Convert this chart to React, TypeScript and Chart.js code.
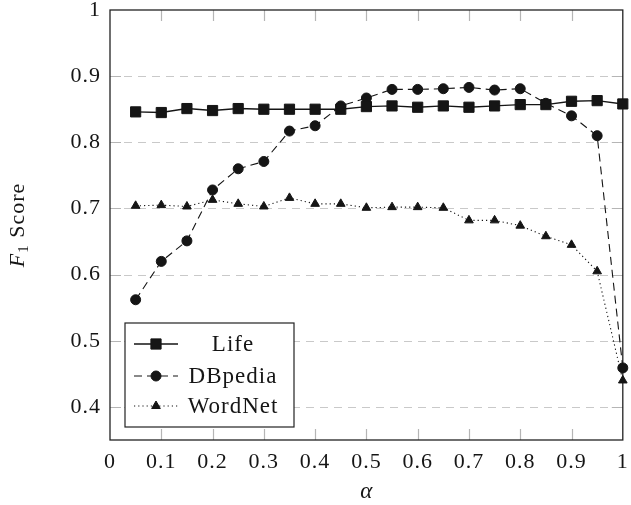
import React, { useEffect, useRef } from "react";
import { Chart, registerables } from "chart.js";

Chart.register(...registerables);

const alphas = [0.05, 0.1, 0.15, 0.2, 0.25, 0.3, 0.35, 0.4, 0.45, 0.5, 0.55, 0.6, 0.65, 0.7, 0.75, 0.8, 0.85, 0.9, 0.95, 1.0];
const lifeScores = [0.846, 0.845, 0.851, 0.848, 0.851, 0.850, 0.850, 0.850, 0.850, 0.854, 0.855, 0.853, 0.855, 0.853, 0.855, 0.857, 0.857, 0.862, 0.863, 0.858];
const dbpediaScores = [0.562, 0.620, 0.651, 0.728, 0.760, 0.771, 0.817, 0.825, 0.855, 0.867, 0.880, 0.880, 0.881, 0.883, 0.879, 0.881, 0.859, 0.840, 0.810, 0.459];
const wordnetScores = [0.704, 0.705, 0.703, 0.713, 0.707, 0.703, 0.716, 0.707, 0.707, 0.701, 0.702, 0.702, 0.701, 0.682, 0.682, 0.674, 0.658, 0.645, 0.605, 0.440];
const seriesNames = ["Life", "DBpedia", "WordNet"];
const xTicks = [0, 0.1, 0.2, 0.3, 0.4, 0.5, 0.6, 0.7, 0.8, 0.9, 1];
const yTicks = [0.4, 0.5, 0.6, 0.7, 0.8, 0.9, 1];

const SERIF = "'Liberation Serif', 'Times New Roman', serif";
const INK = "#151515";
const dashes: number[][] = [[], [8, 5], [1.2, 3]];
const markers = ["rect", "circle", "triangle"];

function fmt(v: number) {
  if (Math.abs(v) < 1e-9) return "0";
  if (Math.abs(v - 1) < 1e-9) return "1";
  return v.toFixed(1);
}

function drawMarker(ctx: CanvasRenderingContext2D, style: string, x: number, y: number) {
  ctx.save();
  ctx.fillStyle = INK;
  ctx.strokeStyle = INK;
  ctx.lineWidth = 1;
  ctx.setLineDash([]);
  ctx.beginPath();
  if (style === "rect") {
    ctx.rect(x - 5.1, y - 5.1, 10.2, 10.2);
  } else if (style === "circle") {
    ctx.arc(x, y, 5, 0, Math.PI * 2);
  } else {
    const r = 5;
    ctx.moveTo(x, y - r);
    ctx.lineTo(x + r * 0.866, y + r / 2);
    ctx.lineTo(x - r * 0.866, y + r / 2);
    ctx.closePath();
  }
  ctx.fill();
  ctx.stroke();
  ctx.restore();
}

const framePlugin = {
  id: "pgfFrame",
  beforeDraw(chart: any) {
    (chart.ctx as any).letterSpacing = "1px";
  },
  beforeDatasetsDraw(chart: any) {
    const { ctx, chartArea: a, scales } = chart;
    const xs = scales.x;
    const ys = scales.y;
    ctx.save();
    (ctx as any).letterSpacing = "0px";
    ctx.strokeStyle = "#c9c9c9";
    ctx.lineWidth = 1;
    ctx.setLineDash([8, 6]);
    yTicks.forEach((v) => {
      if (v >= 1) return;
      const y = Math.round(ys.getPixelForValue(v)) + 0.5;
      ctx.beginPath();
      ctx.moveTo(a.left, y);
      ctx.lineTo(a.right, y);
      ctx.stroke();
    });
    ctx.setLineDash([]);
    ctx.strokeStyle = "#b5b5b5";
    ctx.lineWidth = 1.2;
    const tl = 11;
    xTicks.forEach((v) => {
      if (v <= 0 || v >= 1) return;
      const x = Math.round(xs.getPixelForValue(v)) + 0.5;
      ctx.beginPath();
      ctx.moveTo(x, a.bottom);
      ctx.lineTo(x, a.bottom - tl);
      ctx.moveTo(x, a.top);
      ctx.lineTo(x, a.top + tl);
      ctx.stroke();
    });
    yTicks.forEach((v) => {
      if (v >= 1) return;
      const y = Math.round(ys.getPixelForValue(v)) + 0.5;
      ctx.beginPath();
      ctx.moveTo(a.left, y);
      ctx.lineTo(a.left + tl, y);
      ctx.moveTo(a.right, y);
      ctx.lineTo(a.right - tl, y);
      ctx.stroke();
    });
    ctx.strokeStyle = "#222";
    ctx.lineWidth = 1.3;
    ctx.strokeRect(a.left, a.top, a.right - a.left, a.bottom - a.top);
    ctx.restore();
  },
  afterDraw(chart: any) {
    const { ctx, chartArea: a } = chart;
    ctx.save();
    (ctx as any).letterSpacing = "0px";
    ctx.fillStyle = INK;
    ctx.font = `italic 23px ${SERIF}`;
    ctx.textAlign = "center";
    ctx.textBaseline = "alphabetic";
    ctx.fillText("α", (a.left + a.right) / 2, 498);
    ctx.translate(24, (a.top + a.bottom) / 2);
    ctx.rotate(-Math.PI / 2);
    ctx.textAlign = "left";
    const fMain = `italic 22px ${SERIF}`;
    const fSub = `15px ${SERIF}`;
    const fText = `22px ${SERIF}`;
    (ctx as any).letterSpacing = "1px";
    ctx.font = fMain;
    const w1 = ctx.measureText("F").width;
    ctx.font = fSub;
    const w2 = ctx.measureText("1").width;
    ctx.font = fText;
    const w3 = ctx.measureText(" Score").width;
    let x0 = -(w1 + w2 + w3) / 2;
    ctx.font = fMain;
    ctx.fillText("F", x0, 0);
    x0 += w1;
    ctx.font = fSub;
    ctx.fillText("1", x0, 4);
    x0 += w2;
    ctx.font = fText;
    ctx.fillText(" Score", x0, 0);
    ctx.restore();

    ctx.save();
    const bx = a.left + 15;
    const by = a.bottom - 117;
    const bw = 169;
    const bh = 104;
    ctx.fillStyle = "#fff";
    ctx.fillRect(bx, by, bw, bh);
    ctx.strokeStyle = "#222";
    ctx.lineWidth = 1.2;
    ctx.strokeRect(bx, by, bw, bh);
    const rows = [by + 21, by + 53, by + 83];
    seriesNames.forEach((name, i) => {
      const y = rows[i];
      ctx.strokeStyle = INK;
      ctx.lineWidth = i === 0 ? 1.4 : 1.1;
      ctx.setLineDash(dashes[i]);
      ctx.beginPath();
      ctx.moveTo(bx + 9, y);
      ctx.lineTo(bx + 53, y);
      ctx.stroke();
      ctx.setLineDash([]);
      drawMarker(ctx, markers[i], bx + 31, y);
      ctx.fillStyle = INK;
      ctx.font = `23px ${SERIF}`;
      (ctx as any).letterSpacing = "1px";
      ctx.textAlign = "center";
      ctx.textBaseline = "middle";
      ctx.fillText(name, bx + 108, y + 1);
    });
    ctx.restore();
  },
};

export default function App() {
  const ref = useRef<HTMLCanvasElement | null>(null);
  useEffect(() => {
    if (!ref.current) return;
    const mk = (label: string, data: number[], i: number, width: number) => ({
      label,
      data: alphas.map((x, k) => ({ x, y: data[k] })),
      borderColor: INK,
      backgroundColor: INK,
      borderWidth: width,
      borderDash: dashes[i],
      pointStyle: markers[i],
      pointRadius: i === 0 ? 7.2 : 5,
      pointBorderWidth: 1,
      pointBackgroundColor: INK,
      pointBorderColor: INK,
      tension: 0,
      clip: false as any,
    });
    const chart = new Chart(ref.current, {
      type: "line",
      data: {
        datasets: [
          mk(seriesNames[0], lifeScores, 0, 1.4),
          mk(seriesNames[1], dbpediaScores, 1, 1.1),
          mk(seriesNames[2], wordnetScores, 2, 1.1),
        ],
      },
      plugins: [framePlugin],
      options: {
        responsive: false,
        animation: false,
        devicePixelRatio: 1,
        layout: { padding: { top: 10, right: 3, left: 0, bottom: 0 } },
        plugins: { legend: { display: false }, tooltip: { enabled: false } },
        scales: {
          x: {
            type: "linear",
            min: 0,
            max: 1,
            grid: { display: false, drawTicks: false },
            border: { display: false },
            afterBuildTicks: (s: any) => {
              s.ticks = xTicks.map((v) => ({ value: v }));
            },
            afterFit: (s: any) => {
              s.height = 65;
              s.paddingLeft = 0;
              s.paddingRight = 0;
            },
            ticks: {
              autoSkip: false,
              maxRotation: 0,
              padding: 9,
              color: INK,
              font: { family: SERIF, size: 22 },
              callback: (v: any) => fmt(Number(v)),
            },
          },
          y: {
            type: "linear",
            min: 0.35,
            max: 1,
            grid: { display: false, drawTicks: false },
            border: { display: false },
            afterBuildTicks: (s: any) => {
              s.ticks = yTicks.map((v) => ({ value: v }));
            },
            afterFit: (s: any) => {
              s.width = 110;
              s.paddingTop = 0;
              s.paddingBottom = 0;
            },
            ticks: {
              autoSkip: false,
              padding: 9,
              color: INK,
              font: { family: SERIF, size: 22 },
              callback: (v: any) => fmt(Number(v)),
            },
          },
        },
      },
    });
    return () => chart.destroy();
  }, []);
  return (
    <div style={{ position: "fixed", left: 0, top: 0, width: 631, height: 505, background: "#fff" }}>
      <canvas ref={ref} width={631} height={505} style={{ display: "block" }} />
    </div>
  );
}
